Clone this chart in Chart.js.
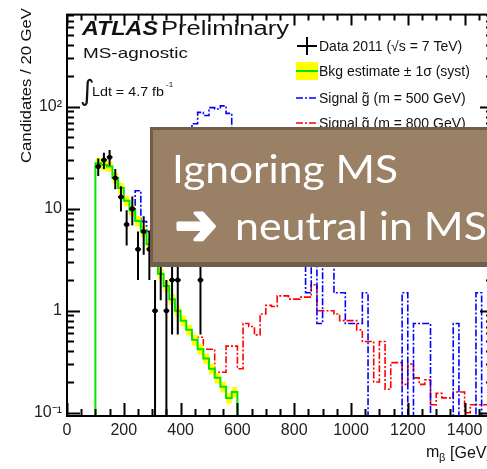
<!DOCTYPE html>
<html>
<head>
<meta charset="utf-8">
<script src="https://cdn.jsdelivr.net/npm/chart.js@4.4.1/dist/chart.umd.min.js"></script>
<style>
  html, body { margin: 0; padding: 0; background: #fff; overflow: hidden; }
  #wrap { width: 487px; height: 469px; overflow: hidden; }
  canvas { display: block; }
</style>
</head>
<body>
<div id="wrap"><canvas id="massChart" width="500" height="469"></canvas></div>
<script>
// binning and axis ranges
const BIN_WIDTH = 20;
const X_MIN = 0, X_MAX = 1500;
const Y_MIN = 0.093, Y_MAX = 800;
const EMPTY_BIN = 0.01; // empty bins sit under the axis and get clipped

// background estimate, bins of 20 GeV from 100 GeV
const bkgFirstBin = 100;
const bkgValues = [28, 27, 26, 20, 16, 12, 9.6, 7.6, 6.0, 4.5, 3.3, 2.3, 1.75, 1.3, 1.0,
  0.8, 0.65, 0.52, 0.42, 0.34, 0.27, 0.22, 0.18, 0.14, 0.16];
const bkgRelErr = 0.12;

// signal gluino m = 500 GeV, from 220 GeV
const sig500FirstBin = 220;
const sig500Values = [9, 15, 7.5, 6, 7, 9, 11, 14, 18, 25, 40, 68, 88, 82, 98, 95, 102, 86,
  45, 32, 24, 18, 14, 11, 9, 7, 6, 5, 4.5, 4, 3.5, 1.5, 3.5, 0.75, 3, 3, 1.5, 1.5,
  0.75, 0.75, 0.75, 1.5, 0, 0, 0, 0, 0, 0, 1.5, 0, 0.75, 0.75, 0.75, 0, 0, 0, 0, 0.75,
  0, 0, 0, 1.5, 0, 0, 0];

// signal gluino m = 800 GeV, from 440 GeV
const sig800FirstBin = 440;
const sig800Values = [0.55, 0.55, 0.42, 0.42, 0.25, 0.25, 0.45, 0.45, 0.27, 0.75, 0.7,
  0.58, 0.93, 1.13, 1.1, 1.4, 1.4, 1.3, 1.3, 1.36, 1.36, 1.8, 1.0, 1.0, 1.0, 0.93, 0.8,
  0.8, 0.8, 0.65, 0.5, 0.5, 0.2, 0.5, 0.17, 0.31, 0.31, 0.19, 0.3, 0.22, 0.19, 0.21,
  0.12, 0.155, 0.14, 0.14, 0.16, 0.16, 0.1, 0.12, 0.12, 0.12, 0.12];

// observed candidates (bin centres)
const dataCenters = [110, 130, 150, 170, 190, 210, 230, 250, 270, 290, 310, 330, 350, 370, 390, 470];
const dataCounts = [26, 30, 32, 20, 13, 7, 10, 4, 6, 4, 1, 3, 1, 2, 2, 2];

// tick labels
const xTickValues = [0, 200, 400, 600, 800, 1000, 1200, 1400];
const yTickValues = [0.1, 1, 10, 100];
const yTickText = ["10\u207B\u00B9", "1", "10", "10\u00B2"];

const legendLabels = [
  "Data 2011 (\u221As = 7 TeV)",
  "Bkg estimate \u00B1 1\u03C3 (syst)",
  "Signal g\u0303 (m = 500 GeV)",
  "Signal g\u0303 (m = 800 GeV)"
];

const FONT = "'Liberation Sans', Arial, sans-serif";

// step histogram points: left edges, then one closing point
function histPoints(firstBin, values, fromZero) {
  const pts = [];
  if (fromZero) pts.push({ x: firstBin, y: EMPTY_BIN });
  values.forEach((v, i) => {
    pts.push({ x: firstBin + i * BIN_WIDTH, y: v > 0 ? v : EMPTY_BIN });
  });
  pts.push({ x: firstBin + values.length * BIN_WIDTH, y: EMPTY_BIN });
  return pts;
}

const bkgUp = bkgValues.map((v) => v * (1 + bkgRelErr));
const bkgDown = bkgValues.map((v) => v * (1 - bkgRelErr));
const dataPoints = dataCenters.map((c, i) => ({ x: c, y: dataCounts[i] }));

function fitText(ctx, text, x, y, width, thicken) {
  const w = ctx.measureText(text).width;
  ctx.save();
  ctx.translate(x, y);
  ctx.scale(width / w, 1);
  ctx.fillText(text, 0, 0);
  if (thicken) {
    ctx.lineWidth = thicken;
    ctx.lineJoin = "round";
    ctx.strokeStyle = ctx.fillStyle;
    ctx.strokeText(text, 0, 0);
  }
  ctx.restore();
}

// vertical and horizontal error bars on the data
const errorBars = {
  id: "errorBars",
  afterDatasetsDraw(chart) {
    const { ctx, chartArea: a, scales: { x, y } } = chart;
    ctx.save();
    ctx.beginPath();
    ctx.rect(a.left, a.top, a.right - a.left, a.bottom - a.top);
    ctx.clip();
    ctx.strokeStyle = "#000";
    ctx.lineWidth = 2;
    dataCenters.forEach((c, i) => {
      const n = dataCounts[i];
      const err = Math.sqrt(n);
      const px = x.getPixelForValue(c);
      const py = y.getPixelForValue(n);
      const lo = n - err > 0.001 ? y.getPixelForValue(n - err) : a.bottom;
      const hi = y.getPixelForValue(n + err);
      ctx.beginPath();
      ctx.moveTo(x.getPixelForValue(c - BIN_WIDTH / 2), py);
      ctx.lineTo(x.getPixelForValue(c + BIN_WIDTH / 2), py);
      ctx.moveTo(px, hi);
      ctx.lineTo(px, lo);
      ctx.stroke();
    });
    ctx.restore();
  }
};

// ROOT style frame with inward ticks on all four sides
const frame = {
  id: "frame",
  afterDatasetsDraw(chart) {
    const { ctx, chartArea: a, scales: { x, y } } = chart;
    ctx.save();
    ctx.strokeStyle = "#000";
    ctx.lineWidth = 2;
    ctx.strokeRect(a.left, a.top, a.right - a.left, a.bottom - a.top);
    ctx.beginPath();
    for (let m = X_MIN; m <= X_MAX; m += 50) {
      const px = Math.round(x.getPixelForValue(m)) + 0.5;
      const major = m % 200 === 0;
      ctx.moveTo(px, a.bottom);
      ctx.lineTo(px, a.bottom - (major ? 13 : 7));
      ctx.moveTo(px, a.top);
      ctx.lineTo(px, a.top + (major ? 11 : 6));
    }
    for (let d = -2; d <= 2; d++) {
      for (let k = 1; k <= 9; k++) {
        const v = k * Math.pow(10, d);
        if (v < Y_MIN || v > Y_MAX) continue;
        const py = Math.round(y.getPixelForValue(v)) + 0.5;
        const len = k === 1 ? 13 : 7;
        ctx.moveTo(a.left, py);
        ctx.lineTo(a.left + len, py);
        ctx.moveTo(a.right, py);
        ctx.lineTo(a.right - len, py);
      }
    }
    ctx.stroke();
    ctx.restore();
  }
};

// labels, legend and the annotation box
const overlay = {
  id: "overlay",
  afterDraw(chart) {
    const { ctx } = chart;
    ctx.save();
    ctx.fillStyle = "#111";
    ctx.textBaseline = "alphabetic";
    ctx.textAlign = "left";

    // experiment label
    ctx.font = "italic bold 20px " + FONT;
    fitText(ctx, "ATLAS", 82, 35, 76);
    ctx.font = "20px " + FONT;
    fitText(ctx, "Preliminary", 161, 35, 128);
    ctx.font = "15px " + FONT;
    fitText(ctx, "MS-agnostic", 83, 58, 105);
    ctx.font = "28px 'DejaVu Sans'";
    ctx.fillText("\u222B", 80, 100);
    ctx.font = "12px " + FONT;
    fitText(ctx, "Ldt = 4.7 fb", 92, 96, 72);
    ctx.font = "8px " + FONT;
    ctx.fillText("-1", 166, 87);

    // axis titles
    ctx.save();
    ctx.font = "14px " + FONT;
    ctx.translate(31, 163);
    ctx.rotate(-Math.PI / 2);
    fitText(ctx, "Candidates / 20 GeV", 0, 0, 155);
    ctx.restore();
    ctx.font = "16px " + FONT;
    ctx.fillText("m", 426, 457);
    ctx.font = "11px " + FONT;
    ctx.fillText("\u03B2", 439, 461);
    ctx.font = "16px " + FONT;
    ctx.fillText("[GeV]", 450, 458);

    // legend
    const lx0 = 297, lx1 = 317, tx = 319;
    const rows = [46, 71, 98, 123];
    ctx.lineWidth = 2;
    ctx.strokeStyle = "#000";
    ctx.beginPath();
    ctx.moveTo(lx0, rows[0]); ctx.lineTo(lx1, rows[0]);
    ctx.moveTo(307, rows[0] - 9); ctx.lineTo(307, rows[0] + 9);
    ctx.stroke();
    ctx.fillStyle = "#ffff00";
    ctx.fillRect(lx0 - 1, rows[1] - 9, 22, 18);
    ctx.strokeStyle = "#00e600";
    ctx.beginPath(); ctx.moveTo(lx0 - 1, rows[1]); ctx.lineTo(lx1 + 1, rows[1]); ctx.stroke();
    ctx.lineWidth = 1.6;
    ctx.setLineDash([7, 2, 2, 2]);
    ctx.strokeStyle = "#0000ff";
    ctx.beginPath(); ctx.moveTo(lx0 - 1, rows[2]); ctx.lineTo(lx1, rows[2]); ctx.stroke();
    ctx.strokeStyle = "#ff0000";
    ctx.beginPath(); ctx.moveTo(lx0 - 1, rows[3]); ctx.lineTo(lx1, rows[3]); ctx.stroke();
    ctx.setLineDash([]);
    ctx.fillStyle = "#111";
    ctx.font = "14px " + FONT;
    legendLabels.forEach((t, i) => ctx.fillText(t, tx, rows[i] + 5));

    // annotation box
    ctx.fillStyle = "rgb(112, 93, 74)";
    ctx.fillRect(150, 127, 345, 140);
    ctx.fillStyle = "rgb(154, 128, 100)";
    ctx.fillRect(153, 130, 345, 132);
    ctx.fillStyle = "#fff";
    ctx.font = "38px Lato, 'Open Sans', sans-serif";
    fitText(ctx, "Ignoring MS", 172, 183, 226);
    ctx.font = "bold 56px 'DejaVu Sans'";
    fitText(ctx, "\u2794", 175, 244, 42, 3);
    ctx.font = "38px Lato, 'Open Sans', sans-serif";
    fitText(ctx, "neutral in MS", 235, 240, 252);
    ctx.restore();
  }
};

const stepLine = (color, dash) => ({
  stepped: "before",
  borderColor: color,
  borderWidth: 1.6,
  borderDash: dash,
  pointRadius: 0,
  fill: false
});

new Chart(document.getElementById("massChart"), {
  type: "line",
  data: {
    datasets: [
      {
        label: "Data 2011",
        data: dataPoints,
        showLine: false,
        pointRadius: 2.5,
        pointBackgroundColor: "#000",
        pointBorderWidth: 0,
        order: 0
      },
      Object.assign(stepLine("#00e600", []), {
        label: "Bkg estimate",
        data: histPoints(bkgFirstBin, bkgValues, true),
        borderWidth: 2,
        order: 1
      }),
      {
        label: "Bkg up",
        data: histPoints(bkgFirstBin, bkgUp, true),
        stepped: "before",
        borderWidth: 0,
        pointRadius: 0,
        backgroundColor: "#ffff00",
        fill: "+1",
        order: 2
      },
      {
        label: "Bkg down",
        data: histPoints(bkgFirstBin, bkgDown, true),
        stepped: "before",
        borderWidth: 0,
        pointRadius: 0,
        fill: false,
        order: 2
      },
      Object.assign(stepLine("#0000ff", [7, 2, 2, 2]), {
        label: "Signal 500",
        data: histPoints(sig500FirstBin, sig500Values, false),
        order: 3
      }),
      Object.assign(stepLine("#ff0000", [7, 2, 2, 2]), {
        label: "Signal 800",
        data: histPoints(sig800FirstBin, sig800Values, false),
        order: 3
      })
    ]
  },
  options: {
    responsive: false,
    animation: false,
    devicePixelRatio: 1,
    layout: { padding: { left: 0, top: 7, right: 7, bottom: 0 } },
    plugins: { legend: { display: false }, tooltip: { enabled: false } },
    scales: {
      x: {
        type: "linear",
        bounds: "data",
        min: X_MIN,
        max: X_MAX,
        grid: { display: false, drawTicks: false },
        border: { display: false },
        afterBuildTicks: (scale) => { scale.ticks = xTickValues.map((v) => ({ value: v })); },
        afterFit: (scale) => { scale.height = 53; },
        ticks: {
          autoSkip: false,
          maxRotation: 0,
          padding: 5,
          color: "#222",
          font: { family: FONT, size: 16 },
          callback: (v) => String(v)
        }
      },
      y: {
        type: "logarithmic",
        bounds: "data",
        min: Y_MIN,
        max: Y_MAX,
        grid: { display: false, drawTicks: false },
        border: { display: false },
        afterBuildTicks: (scale) => { scale.ticks = yTickValues.map((v) => ({ value: v })); },
        afterFit: (scale) => { scale.width = 67; },
        ticks: {
          padding: 5,
          color: "#222",
          font: { family: FONT, size: 16 },
          callback: (v) => yTickText[yTickValues.indexOf(v)]
        }
      }
    }
  },
  plugins: [errorBars, frame, overlay]
});
</script>
</body>
</html>
